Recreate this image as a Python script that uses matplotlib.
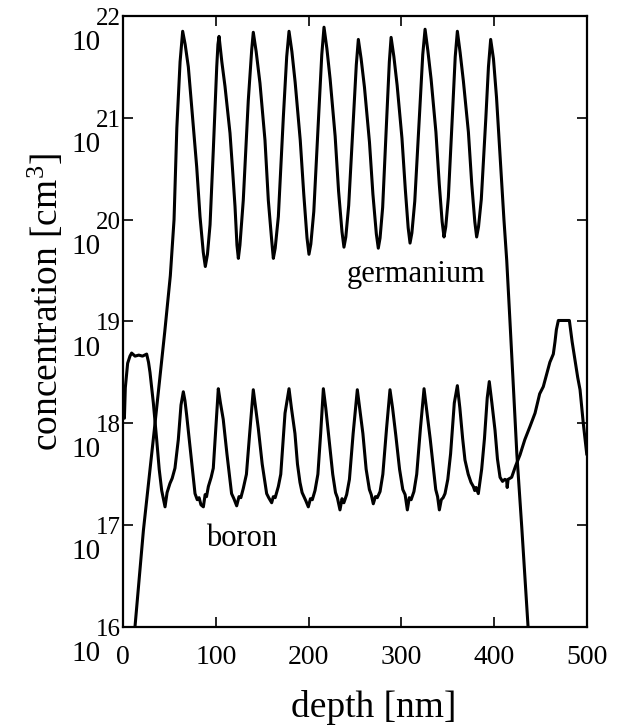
import numpy as np
import matplotlib
matplotlib.use("Agg")
from matplotlib import pyplot as plt
from matplotlib import transforms as mtransforms
from matplotlib.ticker import NullLocator

plt.rcParams['font.family'] = ['Liberation Serif', 'DejaVu Serif']
plt.rcParams['mathtext.default'] = 'regular'

# germanium profile: depth [nm] and log10 of concentration [cm^-3]
ge_depth = [12.9, 22.0, 34.5, 45.0, 51.0, 55.0, 58.0, 61.5,
            64.3, 67.0, 70.4, 74.0, 79.4, 83.0, 86.5, 88.7, 91.0, 93.8, 97.3, 101.0, 102.3,
            103.5, 106.5, 109.9, 115.3, 118.0, 120.7, 122.8, 124.3, 126.0, 129.6, 135.0, 138.7,
            140.4, 143.5, 147.6, 153.0, 156.6, 160.2, 162.0, 164.0, 167.4, 172.8, 176.4,
            178.9, 182.0, 185.5, 191.0, 194.8, 198.3, 200.4, 202.4, 205.6, 211.0, 214.2,
            216.6, 219.7, 223.2, 228.6, 232.3, 236.0, 238.1, 240.1, 243.2, 248.5, 251.4,
            253.6, 256.6, 260.2, 265.6, 269.3, 273.0, 275.1, 277.0, 279.8, 284.2, 287.0,
            288.9, 291.9, 295.4, 300.6, 304.2, 307.3, 309.3, 311.3, 314.4, 319.8, 323.0,
            325.5, 328.5, 332.0, 337.2, 340.8, 343.9, 345.9, 347.8, 350.6, 355.2, 358.0,
            360.3, 363.3, 366.8, 372.2, 375.8, 379.1, 381.1, 383.1, 386.1, 391.0, 393.8,
            396.2, 399.2, 402.5, 406.5, 410.5, 413.5, 417.0, 421.0, 424.4, 429.7, 436.5]
ge_log = [16.0, 16.95, 18.0, 18.9, 19.45, 20.0, 20.9, 21.55,
          21.85, 21.72, 21.50, 21.11, 20.52, 20.03, 19.68, 19.54, 19.66, 19.95, 20.68, 21.50, 21.72,
          21.80, 21.55, 21.31, 20.85, 20.50, 20.13, 19.75, 19.62, 19.75, 20.19, 21.17, 21.67,
          21.84, 21.65, 21.34, 20.78, 20.19, 19.80, 19.62, 19.72, 20.03, 21.01, 21.60,
          21.85, 21.65, 21.35, 20.78, 20.25, 19.82, 19.66, 19.76, 20.08, 21.05, 21.62,
          21.89, 21.68, 21.38, 20.82, 20.28, 19.88, 19.73, 19.83, 20.14, 21.03, 21.52,
          21.77, 21.58, 21.30, 20.76, 20.25, 19.86, 19.72, 19.82, 20.12, 21.00, 21.55,
          21.79, 21.60, 21.32, 20.80, 20.30, 19.92, 19.77, 19.87, 20.18, 21.08, 21.62,
          21.87, 21.66, 21.38, 20.86, 20.35, 19.98, 19.83, 19.93, 20.22, 21.07, 21.60,
          21.85, 21.64, 21.36, 20.86, 20.35, 19.98, 19.83, 19.93, 20.20, 21.00, 21.50,
          21.77, 21.58, 21.20, 20.60, 20.00, 19.60, 19.00, 18.30, 17.70, 16.98, 16.0]

# boron profile
b_depth = [0.3, 1.5, 2.5, 5.0, 7.5, 9.3, 13.0, 17.0, 21.0, 25.5, 27.5, 29.1, 32.7, 36.3, 39.0,
           41.7, 45.3, 47.5, 50.6, 53.0, 56.0, 59.6, 62.5, 65.0, 66.8, 68.6, 72.2, 75.0, 77.6,
           80.0, 82.0, 84.0, 86.6, 88.5, 90.0, 92.0, 95.0, 97.3, 100.0, 102.7, 105.0, 108.0,
           112.0, 117.0, 119.5, 122.5, 125.0, 127.0, 129.6, 133.0, 136.5, 140.4, 143.0, 145.8,
           150.0, 154.8, 157.0, 160.2, 162.0, 164.0, 167.4, 170.0, 174.6, 178.9, 181.5, 185.3,
           188.0, 190.7, 193.0, 195.0, 197.0, 199.7, 202.0, 204.0, 206.9, 210.0, 213.0, 215.9,
           218.5, 222.0, 226.0, 229.0, 231.0, 233.8, 236.0, 238.0, 241.0, 244.0, 248.0, 252.5,
           255.0, 258.5, 262.0, 265.5, 267.5, 269.7, 272.0, 274.0, 277.0, 280.0, 284.0, 287.7,
           290.5, 294.0, 298.0, 301.5, 304.0, 306.4, 308.5, 310.5, 313.5, 316.5, 320.5, 324.4,
           327.0, 331.0, 334.4, 337.0, 339.0, 340.9, 343.0, 345.0, 347.0, 350.0, 353.0, 357.0,
           360.3, 363.0, 366.0, 368.5, 372.0, 375.0, 377.5, 379.0, 380.5, 382.9, 384.5, 386.5,
           389.5, 392.5, 394.7, 397.5, 400.9, 403.5, 406.3, 409.0, 411.5, 413.4, 414.0, 415.0,
           418.8, 423.0, 427.8, 433.0, 438.6, 444.0, 449.0, 452.9, 456.5, 460.0, 463.7, 465.5,
           467.0, 469.1, 475.0, 481.0, 484.0, 487.1, 490.0, 492.5, 496.0, 499.7]
b_log = [18.13, 18.05, 18.35, 18.59, 18.66, 18.69, 18.66, 18.67, 18.66, 18.68, 18.60, 18.50,
         18.20, 17.84, 17.55, 17.34, 17.18, 17.32, 17.41, 17.46, 17.56, 17.84, 18.18, 18.31,
         18.22, 18.08, 17.77, 17.52, 17.31, 17.25, 17.27, 17.20, 17.18, 17.30, 17.28, 17.38,
         17.47, 17.56, 17.95, 18.34, 18.20, 18.04, 17.70, 17.31, 17.26, 17.19, 17.28, 17.27,
         17.36, 17.50, 17.90, 18.33, 18.15, 17.95, 17.60, 17.31, 17.27, 17.22, 17.28, 17.27,
         17.38, 17.50, 18.10, 18.34, 18.15, 17.90, 17.60, 17.42, 17.32, 17.28, 17.24, 17.18,
         17.26, 17.25, 17.34, 17.50, 17.90, 18.34, 18.15, 17.85, 17.50, 17.32, 17.27, 17.15,
         17.26, 17.22, 17.30, 17.45, 17.90, 18.33, 18.15, 17.90, 17.55, 17.35, 17.30, 17.21,
         17.28, 17.27, 17.33, 17.50, 17.95, 18.33, 18.15, 17.88, 17.55, 17.35, 17.30, 17.15,
         17.27, 17.25, 17.33, 17.50, 17.95, 18.34, 18.15, 17.85, 17.57, 17.35, 17.28, 17.15,
         17.25, 17.27, 17.31, 17.45, 17.70, 18.20, 18.37, 18.15, 17.85, 17.64, 17.50, 17.42,
         17.38, 17.34, 17.37, 17.31, 17.42, 17.55, 17.85, 18.25, 18.41, 18.20, 17.93, 17.65,
         17.47, 17.43, 17.45, 17.44, 17.37, 17.45, 17.47, 17.58, 17.69, 17.84, 17.97, 18.10,
         18.29, 18.36, 18.48, 18.60, 18.68, 18.80, 18.92, 19.01, 19.01, 19.01, 18.80, 18.62,
         18.45, 18.33, 18.00, 17.70]

x_ticks = [0, 100, 200, 300, 400, 500]
y_exps = [16, 17, 18, 19, 20, 21, 22]

fig = plt.figure(figsize=(6.19, 7.26), dpi=100)
ax = fig.add_axes([123/619, 1 - 627/726, 464/619, 611/726])

ax.plot(ge_depth, 10.0 ** np.array(ge_log), color='black', lw=2.2)
ax.plot(b_depth, 10.0 ** np.array(b_log), color='black', lw=2.2)

ax.set_yscale('log')
ax.set_xlim(0, 500)
ax.set_ylim(1e16, 1e22)
ax.set_xticks(x_ticks)
ax.set_yticks([10.0 ** k for k in y_exps])
ax.yaxis.set_minor_locator(NullLocator())
ax.tick_params(direction='in', length=7, width=1.2, top=True, right=True,
               labelsize=20, pad=13, labelleft=False)
for s in ax.spines.values():
    s.set_linewidth(1.6)

# y tick labels drawn as "10" with a raised exponent, like the original
trans = mtransforms.blended_transform_factory(ax.transAxes, ax.transData)
exp_tr = mtransforms.offset_copy(trans, fig=fig, x=-2, y=-9, units='dots')
base_tr = mtransforms.offset_copy(trans, fig=fig, x=-22, y=-34, units='dots')
for k in y_exps:
    ax.text(0, 10.0 ** k, str(k), transform=exp_tr, ha='right', va='baseline',
            fontsize=18, clip_on=False)
    ax.text(0, 10.0 ** k, '10', transform=base_tr, ha='right', va='baseline',
            fontsize=21, clip_on=False)

ax.set_xlabel('depth [nm]', fontsize=27)
ax.xaxis.set_label_coords((374 - 123) / 464, (627 - 690) / 611)
ax.set_ylabel('concentration [cm$^3$]', fontsize=27)
ax.yaxis.set_label_coords((66 - 123) / 464, (627 - 302) / 611)

ax.text(241, 10 ** 19.39, 'germanium', fontsize=22)
ax.text(90, 10 ** 16.80, 'boron', fontsize=22)

plt.savefig('out.png', dpi=100)
